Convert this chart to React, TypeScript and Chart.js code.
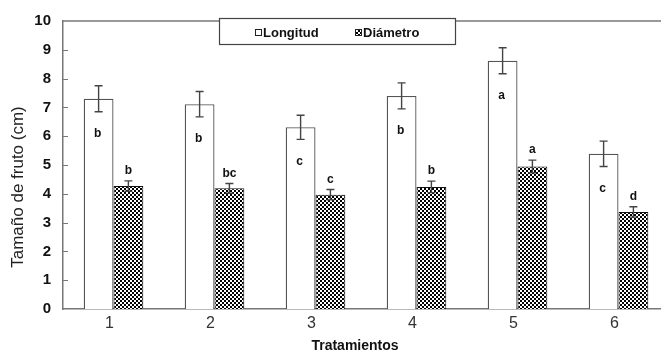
import React, { useEffect, useRef } from "react";
import { Chart, registerables } from "chart.js";

Chart.register(...registerables);

const categories = ["1", "2", "3", "4", "5", "6"];
const longitud = [7.3, 7.11, 6.31, 7.4, 8.62, 5.39];
const longitudErr = [0.45, 0.44, 0.42, 0.45, 0.45, 0.44];
const longitudLetters = ["b", "b", "c", "b", "a", "c"];
const diametro = [4.27, 4.19, 3.97, 4.24, 4.95, 3.37];
const diametroErr = [0.18, 0.17, 0.18, 0.2, 0.22, 0.18];
const diametroLetters = ["b", "bc", "c", "b", "a", "d"];
const seriesNames = ["Longitud", "Diámetro"];
const yTitle = "Tamaño de fruto (cm)";
const xTitle = "Tratamientos";
const yMin = 0;
const yMax = 10;
const yStep = 1;

const FONT = "'Liberation Sans', Arial, sans-serif";
const CANVAS_W = 672;
const CANVAS_H = 354;

function makePattern(): CanvasPattern | string {
  const c = document.createElement("canvas");
  c.width = 4;
  c.height = 4;
  const g = c.getContext("2d");
  if (!g) return "#555";
  g.fillStyle = "#ffffff";
  g.fillRect(0, 0, 4, 4);
  g.fillStyle = "#000000";
  g.fillRect(0, 0, 2, 2);
  g.fillRect(2, 2, 2, 2);
  const p = g.createPattern(c, "repeat");
  return p || "#555";
}

const errorBarsPlugin = {
  id: "errorBars",
  afterDatasetsDraw(chart: any) {
    const ctx = chart.ctx;
    const yScale = chart.scales.y;
    chart.data.datasets.forEach((ds: any, i: number) => {
      const meta = chart.getDatasetMeta(i);
      meta.data.forEach((el: any, j: number) => {
        const v = ds.data[j];
        const e = ds.errors[j];
        const x = el.x;
        const yT = yScale.getPixelForValue(v + e);
        const yB = yScale.getPixelForValue(v - e);
        ctx.save();
        ctx.strokeStyle = "#444";
        ctx.lineWidth = 1.4;
        ctx.beginPath();
        ctx.moveTo(x, yT);
        ctx.lineTo(x, yB);
        ctx.moveTo(x - 4, yT);
        ctx.lineTo(x + 4, yT);
        ctx.moveTo(x - 4, yB);
        ctx.lineTo(x + 4, yB);
        ctx.stroke();
        ctx.fillStyle = "#111";
        ctx.font = `bold 12px ${FONT}`;
        ctx.textAlign = "center";
        ctx.textBaseline = "middle";
        const letter = ds.letters[j];
        if (ds.letterPos === "below") {
          ctx.fillText(letter, x - 1, yB + 22);
        } else {
          ctx.fillText(letter, x, yT - 10);
        }
        ctx.restore();
      });
    });
  },
};

const framePlugin = {
  id: "frame",
  afterDraw(chart: any) {
    const ctx = chart.ctx;
    const a = chart.chartArea;
    const yScale = chart.scales.y;
    ctx.save();
    ctx.strokeStyle = "#777";
    ctx.lineWidth = 1.5;
    ctx.beginPath();
    ctx.moveTo(a.left, a.top);
    ctx.lineTo(a.right, a.top);
    ctx.stroke();
    ctx.lineWidth = 1.2;
    ctx.beginPath();
    yScale.ticks.forEach((t: any) => {
      if (t.value <= yMin || t.value >= yMax) return;
      const py = Math.round(yScale.getPixelForValue(t.value)) + 0.5;
      ctx.moveTo(a.left, py);
      ctx.lineTo(a.left + 5, py);
    });
    ctx.stroke();
    ctx.restore();
  },
};

const legendBoxPlugin = {
  id: "legendBox",
  afterDraw(chart: any) {
    const ctx = chart.ctx;
    const box = { x: 219, y: 18, w: 236, h: 26 };
    ctx.save();
    ctx.fillStyle = "#fff";
    ctx.fillRect(box.x, box.y, box.w, box.h);
    ctx.strokeStyle = "#444";
    ctx.lineWidth = 1.2;
    ctx.strokeRect(box.x + 0.5, box.y + 0.5, box.w, box.h);
    const itemX = [255, 355];
    const cy = box.y + 15;
    chart.data.datasets.forEach((ds: any, i: number) => {
      const sx = itemX[i];
      ctx.fillStyle = ds.backgroundColor;
      ctx.fillRect(sx, cy - 4, 7, 7);
      ctx.strokeStyle = "#222";
      ctx.lineWidth = 1;
      ctx.strokeRect(sx + 0.5, cy - 3.5, 6, 6);
      ctx.fillStyle = "#111";
      ctx.font = `bold 13px ${FONT}`;
      ctx.textAlign = "left";
      ctx.textBaseline = "middle";
      ctx.fillText(ds.label, sx + 8, cy);
    });
    ctx.restore();
  },
};

const axisTitlesPlugin = {
  id: "axisTitles",
  afterDraw(chart: any) {
    const ctx = chart.ctx;
    ctx.save();
    ctx.fillStyle = "#222";
    ctx.textAlign = "center";
    ctx.textBaseline = "middle";
    ctx.font = `17px ${FONT}`;
    ctx.translate(18, 187);
    ctx.rotate(-Math.PI / 2);
    ctx.fillText(yTitle, 0, 0);
    ctx.restore();
    ctx.save();
    ctx.fillStyle = "#111";
    ctx.textAlign = "center";
    ctx.textBaseline = "middle";
    ctx.font = `bold 14px ${FONT}`;
    ctx.fillText(xTitle, 355, 346);
    ctx.restore();
  },
};

export default function App() {
  const ref = useRef<HTMLCanvasElement | null>(null);

  useEffect(() => {
    if (!ref.current) return;
    const pattern = makePattern();
    const chart = new Chart(ref.current, {
      type: "bar",
      data: {
        labels: categories,
        datasets: [
          {
            label: seriesNames[0],
            data: longitud,
            errors: longitudErr,
            letters: longitudLetters,
            letterPos: "below",
            backgroundColor: "#ffffff",
            borderColor: "#555",
            borderWidth: 1.3,
            categoryPercentage: 0.59,
            barPercentage: 1.0,
          } as any,
          {
            label: seriesNames[1],
            data: diametro,
            errors: diametroErr,
            letters: diametroLetters,
            letterPos: "above",
            backgroundColor: pattern,
            borderColor: "#111",
            borderWidth: 1,
            categoryPercentage: 0.59,
            barPercentage: 1.0,
          } as any,
        ],
      },
      options: {
        responsive: false,
        animation: false,
        layout: { padding: { left: 0, top: 18, right: 3, bottom: 0 } },
        plugins: {
          legend: { display: false },
          tooltip: { enabled: false },
        },
        scales: {
          x: {
            grid: { display: false, drawTicks: false },
            border: { color: "#777", width: 1.5 },
            ticks: {
              font: { size: 16, family: FONT },
              color: "#333",
              padding: 5,
              labelOffset: -4,
            },
            afterFit: (s: any) => {
              s.height = 45;
            },
          },
          y: {
            min: yMin,
            max: yMax,
            grid: { display: false, drawTicks: false },
            border: { color: "#777", width: 1.5 },
            ticks: {
              stepSize: yStep,
              font: { size: 15, weight: "bold", family: FONT },
              color: "#111",
              padding: 12,
            },
            afterFit: (s: any) => {
              s.width = 63;
            },
          },
        },
      } as any,
      plugins: [errorBarsPlugin, framePlugin, legendBoxPlugin, axisTitlesPlugin],
    });
    return () => chart.destroy();
  }, []);

  return (
    <div
      style={{
        position: "absolute",
        left: 0,
        top: 0,
        width: 661,
        height: 354,
        overflow: "hidden",
        background: "#fff",
      }}
    >
      <canvas
        ref={ref}
        width={CANVAS_W}
        height={CANVAS_H}
        style={{ display: "block", width: CANVAS_W, height: CANVAS_H }}
      />
    </div>
  );
}
